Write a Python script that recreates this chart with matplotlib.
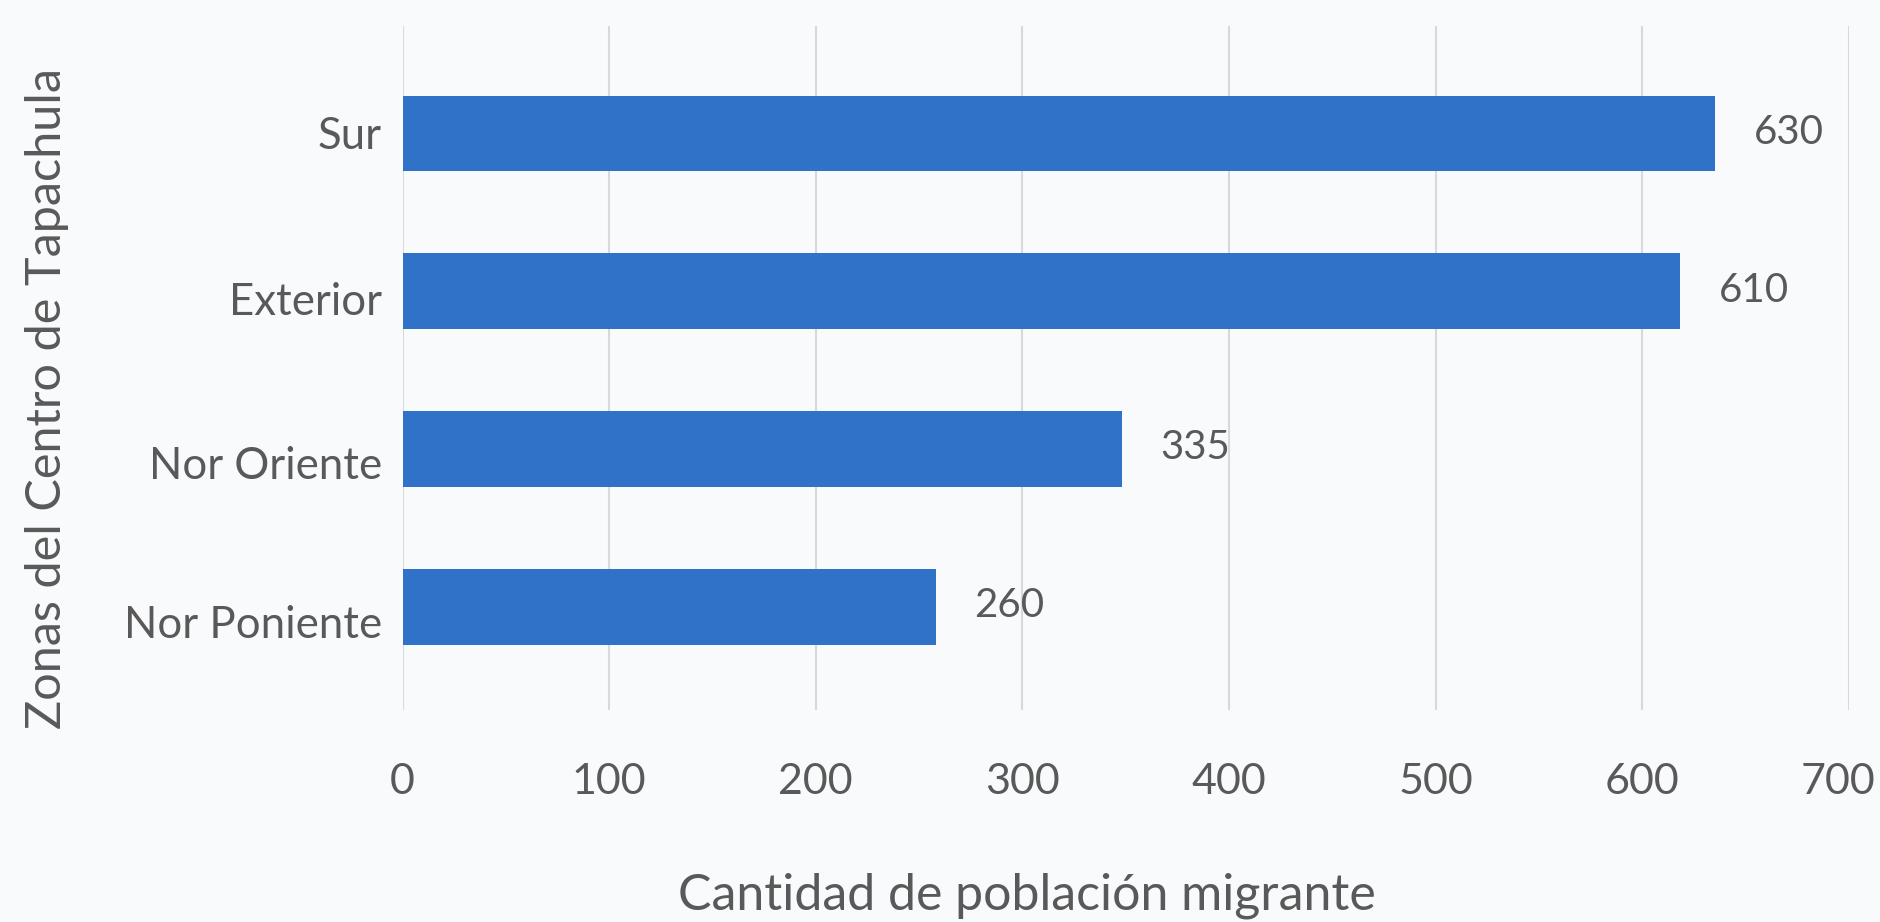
import matplotlib

matplotlib.use("Agg")
import matplotlib.pyplot as plt
from matplotlib.transforms import ScaledTranslation

# Zones, bottom to top
zonas = ["Nor Poniente", "Nor Oriente", "Exterior", "Sur"]
# bar lengths as drawn in the original chart
longitudes = [258, 348, 618, 635]
# data labels printed next to each bar
etiquetas = ["260", "335", "610", "630"]
xticks = [0, 100, 200, 300, 400, 500, 600, 700]

bg = "#F9FAFC"
text_color = "#595959"
bar_color = "#3072C8"

plt.rcParams["font.family"] = ["Lato", "DejaVu Sans"]

fig = plt.figure(figsize=(18.8, 9.22), dpi=100, facecolor=bg)
ax = fig.add_axes([0.2141, 0.2299, 0.7694, 0.7419], facecolor=bg)

y = list(range(len(zonas)))
bars = ax.barh(y, longitudes, height=0.48, color=bar_color, zorder=3)

# Data labels to the right of each bar
for bar, txt in zip(bars, etiquetas):
    ax.annotate(
        txt,
        xy=(bar.get_width(), bar.get_y() + bar.get_height() / 2),
        xytext=(28, 1),
        textcoords="offset points",
        va="center",
        ha="left",
        fontsize=29,
        color=text_color,
    )

ax.set_xlim(0, 700)
ax.set_ylim(-0.65, 3.68)
ax.set_xticks(xticks)
# category labels sit a bit lower than the bar centres in the original
ax.set_yticks([p - d for p, d in zip(y, [0.09, 0.08, 0.045, -0.005])])
ax.set_yticklabels(zonas)

ax.grid(axis="x", color="#D9D9D9", linewidth=1.5, zorder=0)
ax.tick_params(axis="x", length=0, pad=38, labelsize=31, labelcolor=text_color)
ax.tick_params(axis="y", length=0, pad=15, labelsize=31.5, labelcolor=text_color)
for spine in ax.spines.values():
    spine.set_visible(False)

# keep the last tick label inside the figure
last = ax.get_xticklabels()[-1]
last.set_transform(last.get_transform() + ScaledTranslation(-8 / 72, 0, fig.dpi_scale_trans))

fig.text(
    0.546,
    0.029,
    "Cantidad de población migrante",
    va="center",
    ha="center",
    fontsize=36,
    color=text_color,
)
fig.text(
    0.025,
    0.568,
    "Zonas del Centro de Tapachula",
    rotation=90,
    va="center",
    ha="center",
    fontsize=35,
    color=text_color,
)

fig.savefig("out.png", dpi=100, facecolor=bg)
